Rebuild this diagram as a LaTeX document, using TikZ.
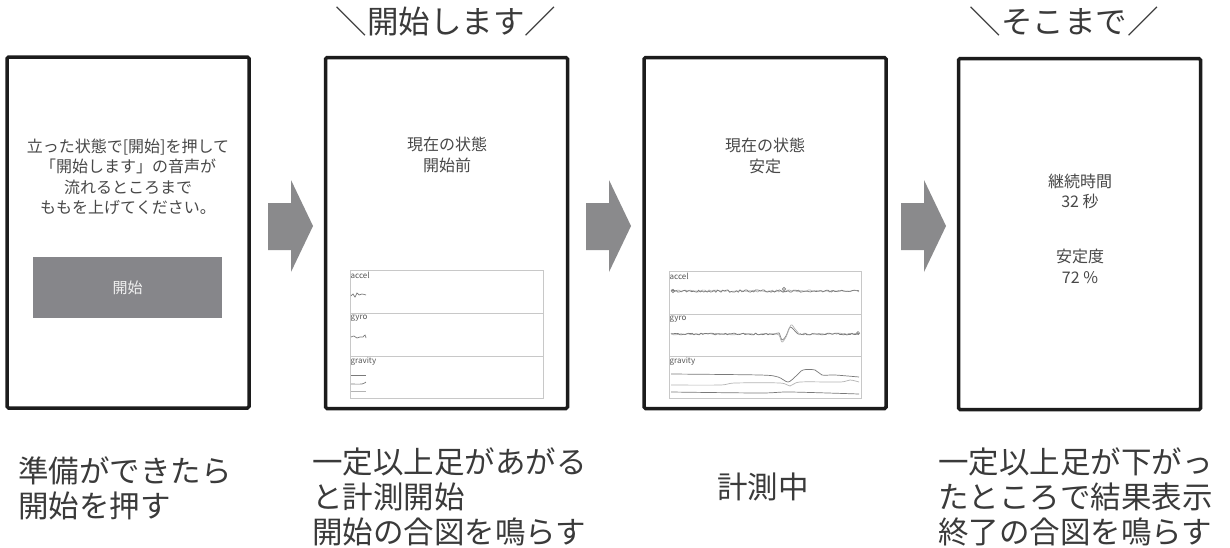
\documentclass[tikz,border=0pt]{standalone}
\usepackage{fontspec}
\setmainfont{Noto Sans CJK JP}
\definecolor{arrowgray}{HTML}{8A8A8C}
\definecolor{screenblack}{HTML}{1C1C1C}
\definecolor{textgray}{HTML}{484848}
\definecolor{captext}{HTML}{3A3A3A}
\definecolor{panelgray}{HTML}{C8C8C8}
\definecolor{labelgray}{HTML}{555555}
\definecolor{tracegray}{HTML}{7A7A7A}
\definecolor{tracelt}{HTML}{B4B4B4}
\definecolor{buttongray}{HTML}{86868A}
\begin{document}
\begin{tikzpicture}[x=1pt,y=-1pt,
  screen/.style={draw=screenblack, line width=3.5pt, rounded corners=1.5pt, minimum width=242pt, minimum height=351pt, inner sep=0pt, fill=white},
  scrtext/.style={text=textgray, font=\fontsize{16}{20.5}\selectfont, align=center, inner sep=0pt},
  caption/.style={text=captext, font=\fontsize{30.5}{35}\selectfont, align=left, inner sep=0pt, anchor=west},
  headline/.style={text=captext, font=\fontsize{31.5}{35}\selectfont, inner sep=0pt},
  panel/.style={draw=panelgray, line width=0.8pt},
  plabel/.style={font=\fontsize{8}{8}\selectfont, text=labelgray, anchor=north west, inner sep=0.5pt},
  trace/.style={draw=tracegray, line width=0.7pt},
  tracel/.style={draw=tracelt, line width=0.7pt},
  bigarrow/.style={fill=arrowgray},
  button/.style={fill=buttongray, draw=none, minimum width=189pt, minimum height=61pt, inner sep=0pt, text=white!88!gray, font=\fontsize{15}{18}\selectfont}]
\useasboundingbox (0,0) rectangle (1230,547);
\fill[white] (0,0) rectangle (1230,547);

% screens
\node[screen] (s1) at (128,232.5) {};
\node[screen] (s2) at (446.5,233) {};
\node[screen] (s3) at (765,233) {};
\node[screen] (s4) at (1079.5,234) {};

% arrows
\foreach \L/\n in {268/a1,586/a2,901/a3}{
  \fill[bigarrow] (\L,203) -- (\L+23,203) -- (\L+23,180) -- (\L+45,226) -- (\L+23,272) -- (\L+23,250) -- (\L,250) -- cycle;
}

% screen 1
\node[scrtext] (t1) at (128,177) {立った状態で[開始]を押して\\「開始します」の音声が\\流れるところまで\\ももを上げてください。};
\node[button] (b1) at (127.5,287.5) {開始};

% screen 2
\node[scrtext] (t2) at (447,155) {現在の状態\\開始前};
\draw[panel] (350,270) rectangle (543,398);
\draw[panel] (350,313) -- (543,313);
\draw[panel] (350,356) -- (543,356);
\node[plabel] (l2a) at (350,271) {accel};
\node[plabel] (l2b) at (350,314) {gyro};
\node[plabel] (l2c) at (350,357) {gravity};
\draw[trace] plot[smooth] coordinates {(351,296)(353,294)(355,297)(357,293)(359,295)(362,294)(366,295)};
\draw[trace] plot[smooth] coordinates {(351,337)(354,336)(357,338)(360,337)(363,337)(365,335)(366,338)};
\draw[trace] (351,375) -- (366,375);
\draw[trace] plot[smooth] coordinates {(351,384)(362,384)(366,382)};
\draw[tracel] (351,391) -- (366,391);

% screen 3
\node[scrtext] (t3) at (765,156) {現在の状態\\安定};
\draw[panel] (669,271) rectangle (861,398);
\draw[panel] (669,314) -- (861,314);
\draw[panel] (669,356) -- (861,356);
\node[plabel] (l3a) at (669,272) {accel};
\node[plabel] (l3b) at (669,315) {gyro};
\node[plabel] (l3c) at (669,357) {gravity};
\pgfmathsetseed{17}
\draw[tracel] plot[domain=671:859, samples=90] (\x,{291+1.0*rand});
\draw[trace] plot[domain=671:859, samples=110] (\x,{291+1.2*rand});
\draw[trace] (673,291) circle (1.6);
\draw[trace] (784,289) circle (1.6);
\draw[tracel] plot[domain=671:775, samples=50] (\x,{334+0.8*rand});
\draw[trace] plot[domain=671:775, samples=60] (\x,{334+0.9*rand});
\draw[trace] plot[smooth] coordinates {(775,334)(779,333)(782,340)(786,336)(790,327)(794,330)(798,334)(800,334)};
\draw[tracel] plot[smooth] coordinates {(775,334)(779,335)(782,342)(786,337)(791,325)(795,329)(800,335)};
\draw[tracel] plot[domain=800:859, samples=30] (\x,{334+1.0*rand});
\draw[trace] plot[domain=800:859, samples=35] (\x,{334+1.0*rand});
\draw[trace] (858,333) circle (1.5);
\draw[trace] plot[smooth, tension=0.5] coordinates {(671,374)(760,375)(778,377)(788,382)(796,376)(803,370)(815,370)(822,375)(835,375)(859,377)};
\draw[tracel] plot[smooth, tension=0.5] coordinates {(671,385)(720,385)(735,383)(780,383)(790,386)(800,382)(840,382)(850,380)(859,382)};
\draw[trace] plot[smooth, tension=0.5] coordinates {(671,392)(760,393)(790,392)(859,394)};

% screen 4
\node[scrtext] (t4a) at (1080,191.5) {継続時間\\32 秒};
\node[scrtext] (t4b) at (1080,266.5) {安定度\\72 \%};

% headlines
\node[headline] (h2) at (446,22) {＼開始します／};
\node[headline] (h4) at (1064,22) {＼そこまで／};

% captions
\node[caption] (c1) at (18,488) {準備ができたら\\開始を押す};
\node[caption] (c2) at (312,497) {一定以上足があがる\\と計測開始\\開始の合図を鳴らす};
\node[caption, anchor=center] (c3) at (763,487) {計測中};
\node[caption] (c4) at (938,497) {一定以上足が下がっ\\たところで結果表示\\終了の合図を鳴らす};
\end{tikzpicture}
\end{document}
